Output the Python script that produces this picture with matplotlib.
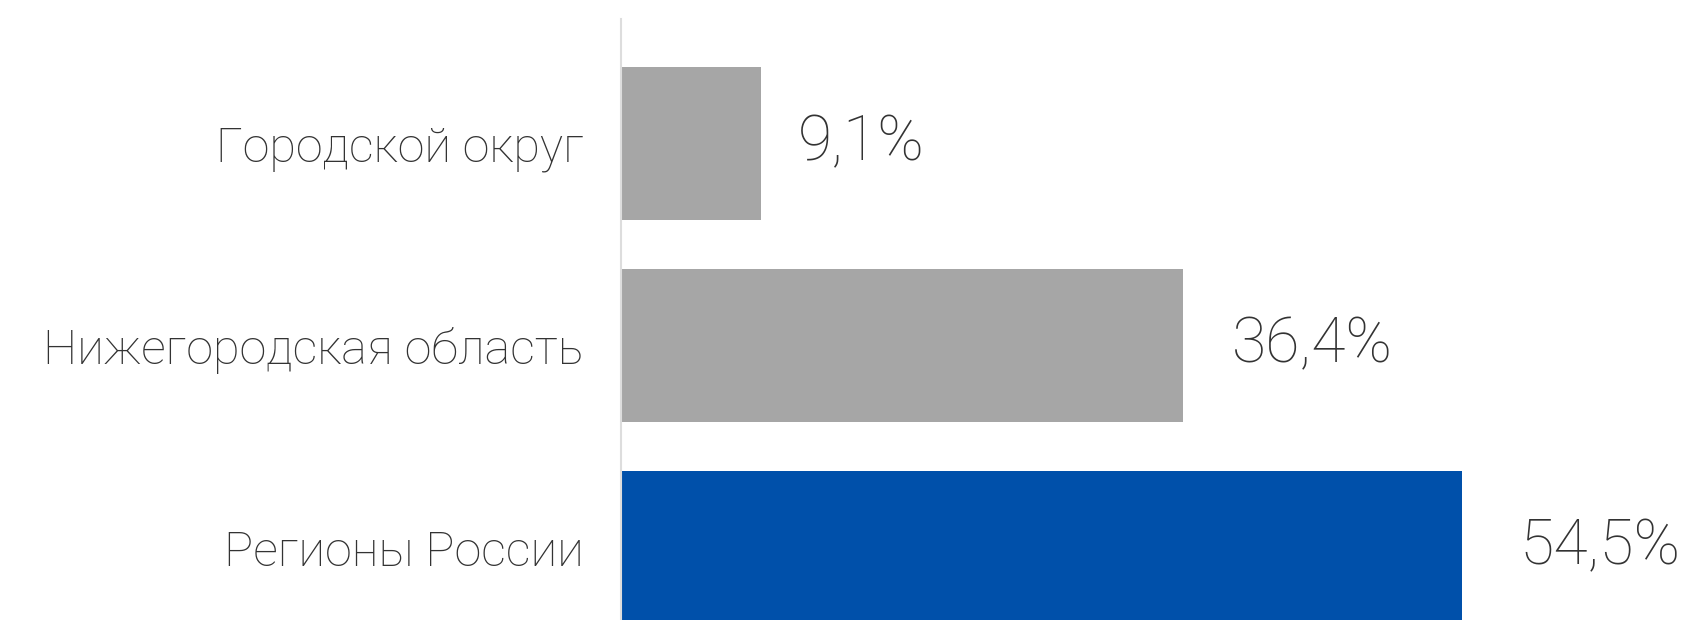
import matplotlib.pyplot as plt

categories = ["Городской округ", "Нижегородская область", "Регионы России"]
values = [9.1, 36.4, 54.5]
value_labels = ["9,1%", "36,4%", "54,5%"]
colors = ["#a6a6a6", "#a6a6a6", "#0050aa"]

plt.rcParams["font.family"] = ["Roboto", "DejaVu Sans"]

fig = plt.figure(figsize=(17.05, 6.2), dpi=100)
ax = fig.add_axes([621 / 1705, 0, 1 - 621 / 1705, 1 - 19 / 620])

ypos = list(range(len(categories)))
ax.barh(ypos, values, height=0.757, color=colors)

for y, v, lab in zip(ypos, values, value_labels):
    ax.text(v * 1.03 + 2.1, y, lab, va="center", ha="left",
            fontsize=45, fontweight="light", color="#333333")

ax.set_xlim(0, 70.25)
ax.set_ylim(2.359, -0.616)
ax.set_yticks(ypos)
ax.set_yticklabels(categories, fontsize=35, fontweight="light", color="#333333")
ax.tick_params(axis="y", length=0, pad=27)
ax.set_xticks([])

for side in ["top", "right", "bottom"]:
    ax.spines[side].set_visible(False)
ax.spines["left"].set_color("#dddddd")
ax.spines["left"].set_linewidth(1.5)

fig.savefig("out.png", dpi=100)
